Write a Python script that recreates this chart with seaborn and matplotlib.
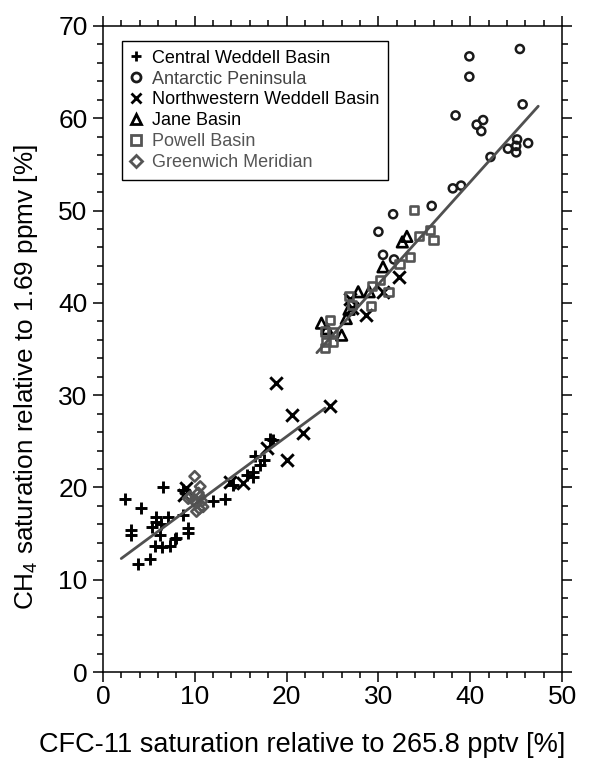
import matplotlib
matplotlib.use("Agg")
import matplotlib.pyplot as plt
from matplotlib.markers import MarkerStyle
from matplotlib.lines import Line2D
from matplotlib.ticker import MultipleLocator
import seaborn as sns
import pandas as pd

sns.set_theme(style="ticks")
plt.rcParams['font.family'] = ['Liberation Sans', 'DejaVu Sans']
plt.rcParams['mathtext.fontset'] = 'custom'
plt.rcParams['mathtext.rm'] = 'Liberation Sans'
plt.rcParams['mathtext.it'] = 'Liberation Sans'

# ---------------- data ----------------
central_x = [2.4, 3.1, 3.1, 4.2, 3.85, 5.1, 6.6, 5.8, 5.8, 7.1, 5.3, 6.2, 5.7, 6.4, 7.3, 7.8,
             8.0, 8.75, 9.3, 9.3, 8.7, 12.0, 13.3, 14.2, 15.7, 16.4, 16.4, 16.6, 17.1, 17.5,
             18.2, 18.5, 6.3]
central_y = [18.7, 15.4, 14.8, 17.8, 11.7, 12.3, 20.0, 16.8, 16.3, 16.8, 15.7, 14.8, 13.65, 13.6,
             13.65, 14.4, 14.5, 17.0, 15.6, 15.1, 19.7, 18.5, 18.8, 20.3, 21.3, 21.7, 21.1, 23.4,
             22.4, 23.0, 25.3, 25.1, 16.0]

antarctic_x = [45.4, 39.9, 39.9, 45.7, 38.4, 41.4, 40.7, 41.2, 45.1, 45.0, 44.1, 45.0, 46.3,
               42.2, 38.1, 39.0, 35.8, 31.6, 30.0, 30.5, 31.7]
antarctic_y = [67.5, 66.7, 64.5, 61.5, 60.3, 59.8, 59.3, 58.6, 57.7, 57.0, 56.7, 56.3, 57.3,
               55.8, 52.4, 52.7, 50.5, 49.6, 47.7, 45.2, 44.7]

nw_x = [18.9, 20.6, 21.8, 24.7, 20.0, 17.9, 13.8, 15.3, 9.1, 8.8, 32.2, 30.5, 28.7, 26.9, 27.1]
nw_y = [31.3, 27.9, 25.9, 28.8, 23.0, 24.3, 20.6, 20.5, 19.9, 19.2, 42.8, 41.2, 38.7, 40.4, 39.4]

jane_x = [33.1, 32.6, 30.5, 27.8, 29.0, 26.8, 26.5, 23.8, 26.0, 24.4]
jane_y = [47.2, 46.6, 43.9, 41.2, 41.2, 39.3, 38.3, 37.8, 36.5, 37.2]

powell_x = [33.9, 35.6, 36.0, 34.4, 33.4, 32.3, 30.2, 31.1, 29.3, 29.2, 26.8, 27.1, 24.7,
            24.2, 24.3, 24.2, 25.1, 25.0]
powell_y = [50.1, 47.9, 46.8, 47.2, 45.0, 44.2, 42.5, 41.2, 41.8, 39.7, 40.7, 39.8, 38.1,
            36.9, 35.8, 35.1, 35.8, 36.8]

greenwich_x = [10.0, 10.6, 10.2, 9.5, 9.9, 10.6, 10.8, 10.2, 10.4, 9.3, 10.9, 10.5]
greenwich_y = [21.2, 20.1, 17.4, 19.0, 18.6, 19.0, 18.5, 18.3, 19.4, 18.8, 17.9, 17.7]

fit_low_x = [2.0, 24.2]
fit_low_y = [12.3, 28.6]
fit_high_x = [23.3, 47.4]
fit_high_y = [34.6, 61.3]

labels = ["Central Weddell Basin", "Antarctic Peninsula", "Northwestern Weddell Basin",
          "Jane Basin", "Powell Basin", "Greenwich Meridian"]
xlabel = "CFC-11 saturation relative to 265.8 pptv [%]"
ylabel = "CH$_4$ saturation relative to 1.69 ppmv [%]"

# ---------------- styling ----------------
GREY = "#555555"
series = [
    (central_x, central_y, MarkerStyle('+'), "black", 80, 2.1),
    (antarctic_x, antarctic_y, MarkerStyle('o', fillstyle='none'), "#1a1a1a", 34, 1.8),
    (nw_x, nw_y, MarkerStyle('x'), "black", 80, 2.1),
    (jane_x, jane_y, MarkerStyle('^', fillstyle='none'), "black", 58, 1.9),
    (powell_x, powell_y, MarkerStyle('s', fillstyle='none'), GREY, 34, 1.9),
    (greenwich_x, greenwich_y, MarkerStyle('D', fillstyle='none'), GREY, 28, 1.9),
]
text_colors = ["black", "#444444", "black", "black", GREY, GREY]

fig = plt.figure(figsize=(5.98, 7.62), dpi=100)
ax = fig.add_axes([0.172, 0.118, 0.768, 0.848])

for (xs, ys, mk, col, s, lw) in series:
    df = pd.DataFrame({"x": xs, "y": ys})
    sns.scatterplot(data=df, x="x", y="y", marker=mk, color=col, s=s,
                    linewidth=lw, ax=ax, zorder=3, legend=False)

for fx, fy in [(fit_low_x, fit_low_y), (fit_high_x, fit_high_y)]:
    sns.lineplot(x=fx, y=fy, color="#505050", linewidth=2.0, ax=ax, zorder=4,
                 estimator=None, sort=False)

ax.set_xlim(0, 50)
ax.set_ylim(0, 70)
ax.xaxis.set_major_locator(MultipleLocator(10))
ax.xaxis.set_minor_locator(MultipleLocator(2))
ax.yaxis.set_major_locator(MultipleLocator(10))
ax.yaxis.set_minor_locator(MultipleLocator(2))
ax.tick_params(which='both', direction='out', top=True, right=True, colors='black',
               labelsize=19, width=1.1)
ax.tick_params(which='major', length=7.5)
ax.tick_params(which='minor', length=4.3)
ax.tick_params(axis='x', which='major', pad=2)
ax.tick_params(axis='y', which='major', pad=3.5)
for sp in ax.spines.values():
    sp.set_visible(True)
    sp.set_linewidth(1.1)
    sp.set_color('black')

ax.set_xlabel(xlabel, fontsize=19.5, color='black')
ax.set_ylabel(ylabel, fontsize=18.8, color='black')
ax.xaxis.set_label_coords(0.434, -0.092)
ax.yaxis.set_label_coords(-0.137, 0.456)

handles = []
for (xs, ys, mk, col, s, lw) in series:
    handles.append(Line2D([], [], linestyle='none', marker=mk, color=col,
                          markeredgecolor=col, markersize=6.5, markeredgewidth=2.0))
leg = ax.legend(handles, labels, loc='upper left', bbox_to_anchor=(0.041, 0.976),
                borderaxespad=0, fontsize=13, frameon=True, fancybox=False,
                edgecolor='black', framealpha=1, handlelength=0.7, handletextpad=0.55,
                labelspacing=0.22, borderpad=0.45)
leg.get_frame().set_linewidth(1.0)
for t, c in zip(leg.get_texts(), text_colors):
    t.set_color(c)

fig.savefig("out.png", dpi=100)
